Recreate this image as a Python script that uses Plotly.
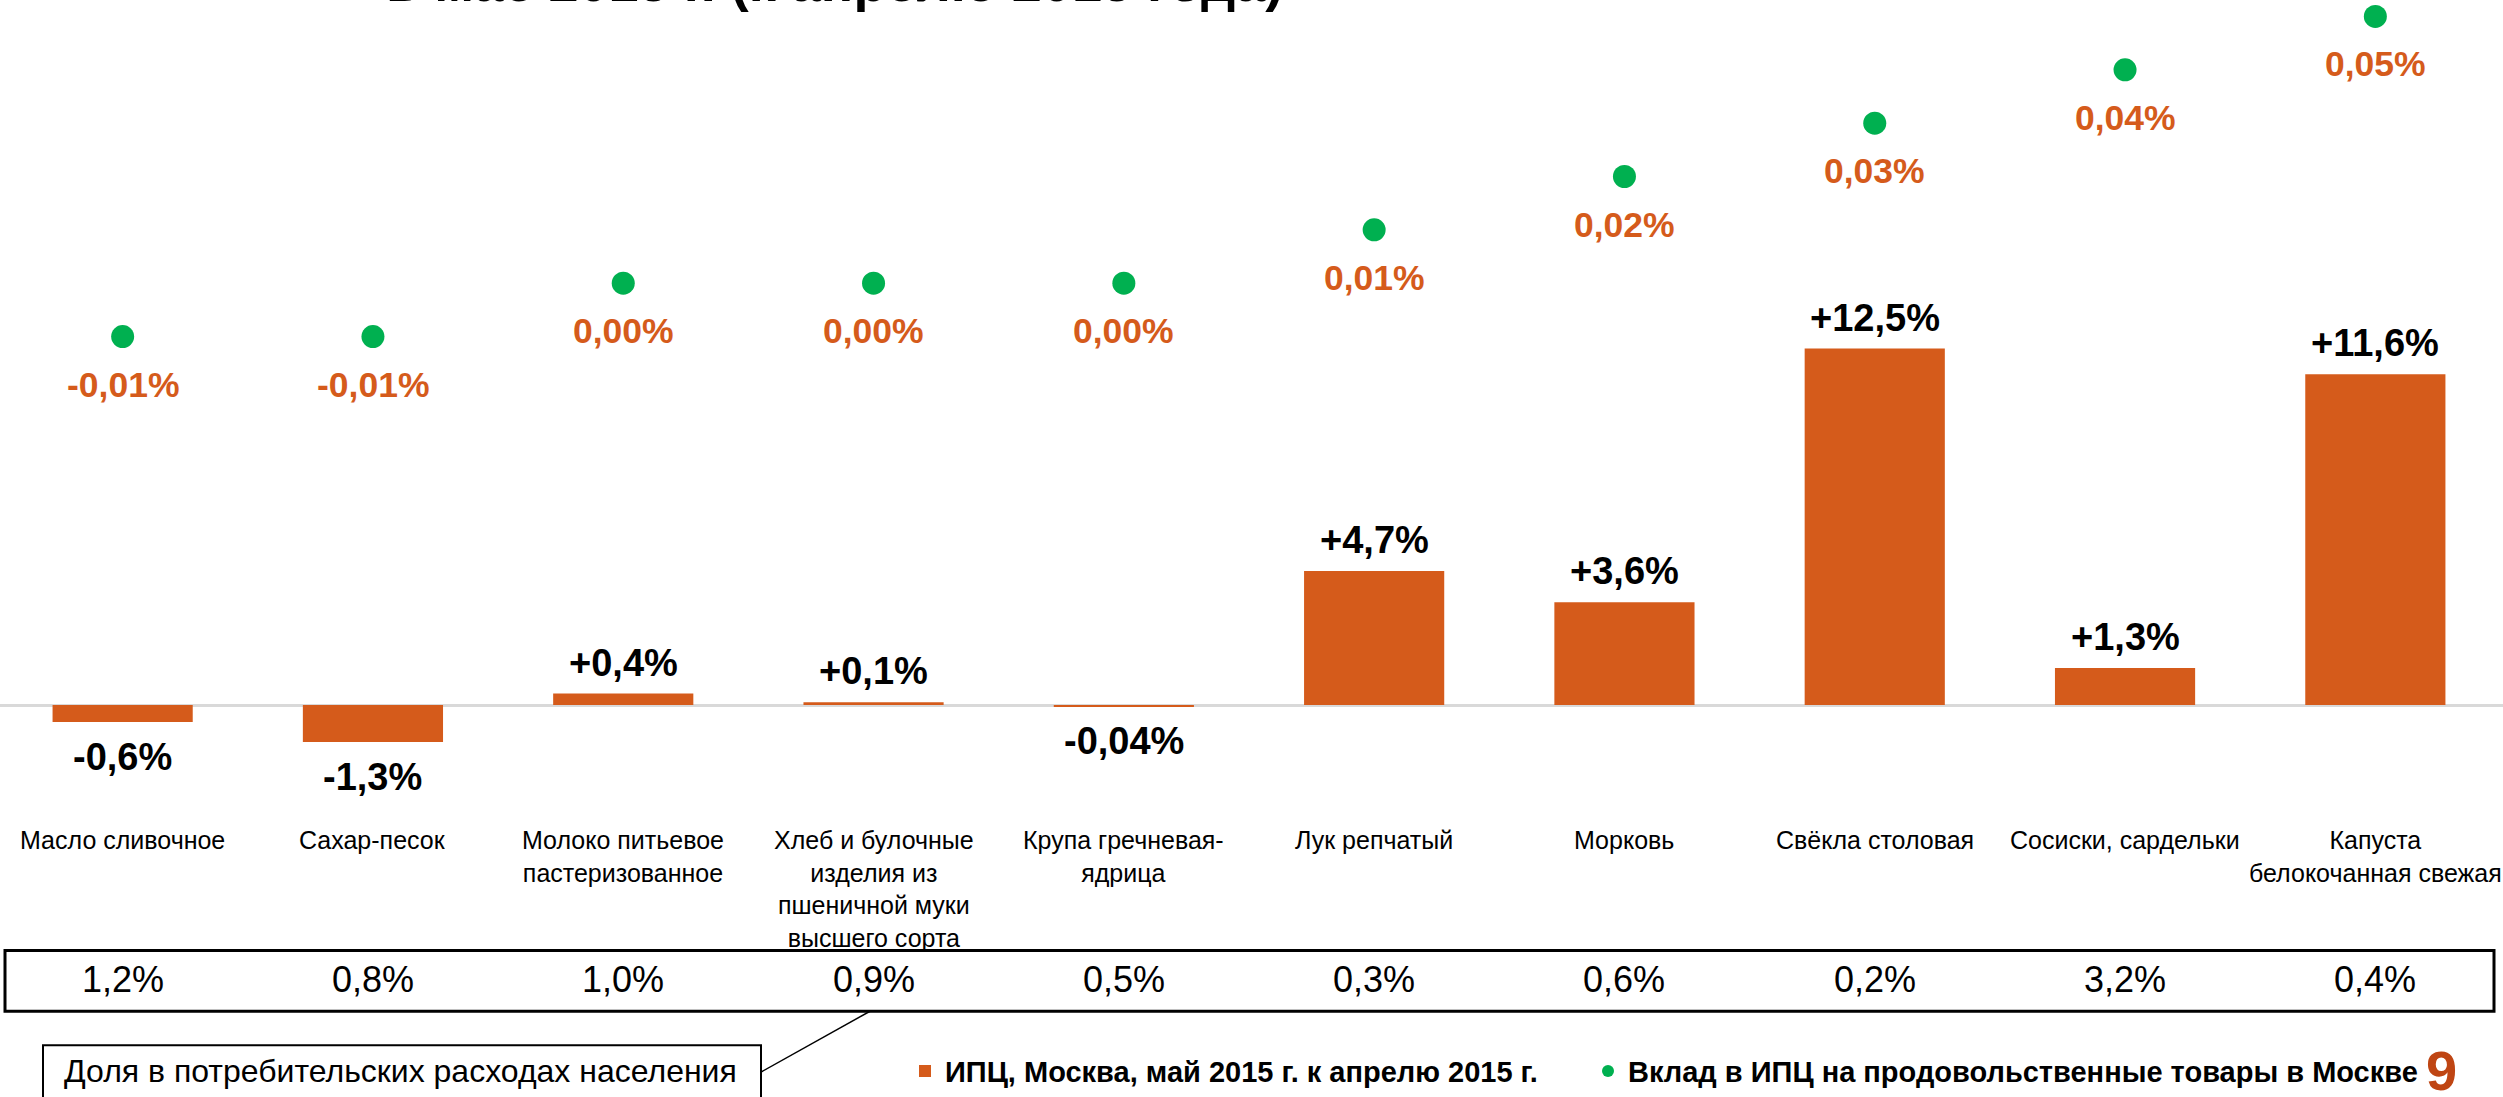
import plotly.graph_objects as go

# ---------------- data ----------------
categories = [
    "Масло сливочное",
    "Сахар-песок",
    "Молоко питьевое<br>пастеризованное",
    "Хлеб и булочные<br>изделия из<br>пшеничной муки<br>высшего сорта",
    "Крупа гречневая-<br>ядрица",
    "Лук репчатый",
    "Морковь",
    "Свёкла столовая",
    "Сосиски, сардельки",
    "Капуста<br>белокочанная свежая",
]
cpi_change = [-0.6, -1.3, 0.4, 0.1, -0.04, 4.7, 3.6, 12.5, 1.3, 11.6]          # % май к апрелю
cpi_contribution = [-0.01, -0.01, 0.00, 0.00, 0.00, 0.01, 0.02, 0.03, 0.04, 0.05]  # п.п.
expense_share = [1.2, 0.8, 1.0, 0.9, 0.5, 0.3, 0.6, 0.2, 3.2, 0.4]              # %

bar_name = "ИПЦ, Москва, май 2015 г. к апрелю 2015 г."
dot_name = "Вклад в ИПЦ на продовольственные товары в Москве"
share_caption = "Доля в потребительских расходах населения"
title_tail = "в мае 2015 г. (к апрелю 2015 года)"
page_number = "9"

# ---------------- styles ----------------
W, H = 2503, 1097
ORANGE = "#D55B1B"
GREEN = "#00B050"
FONT = "Liberation Sans, Arial, sans-serif"


def fmt_change(v):
    d = 2 if abs(v) < 0.1 and v < 0 else 1
    return f"{v:+.{d}f}".replace(".", ",") + "%"


def fmt_contrib(v):
    s = f"{v:.2f}".replace(".", ",")
    if s == "-0,00":
        s = "0,00"
    return s + "%"


def fmt_share(v):
    return f"{v:.1f}".replace(".", ",") + "%"


def py(pix):
    """pixel from top -> paper y"""
    return 1 - pix / H


def px(pix):
    return pix / W


fig = go.Figure()
fig.add_trace(go.Bar(
    x=categories, y=cpi_change, name=bar_name, legend="legend",
    marker=dict(color=ORANGE, line=dict(width=0)), width=0.56, yaxis="y",
))
fig.add_trace(go.Scatter(
    x=categories, y=cpi_contribution, name=dot_name, mode="markers", legend="legend2",
    marker=dict(color=GREEN, size=23), yaxis="y2",
))

ann = []
# bar value labels
for c, v in zip(categories, cpi_change):
    ann.append(dict(x=c, y=v, xref="x", yref="y", text=fmt_change(v), showarrow=False,
                    yanchor="middle", yshift=31 if v >= 0 else -35,
                    font=dict(family=FONT, size=38, color="black", weight="bold")))
# contribution labels
for c, v in zip(categories, cpi_contribution):
    ann.append(dict(x=c, y=v, xref="x", yref="y2", text=fmt_contrib(v), showarrow=False,
                    yanchor="middle", yshift=-48,
                    font=dict(family=FONT, size=35.5, color=ORANGE, weight="bold")))
# category labels
for c in categories:
    ann.append(dict(x=c, y=py(826), xref="x", yref="paper", text=c, showarrow=False,
                    yanchor="top", align="center",
                    font=dict(family=FONT, size=25, color="black")))
# expense share row
for c, v in zip(categories, expense_share):
    ann.append(dict(x=c, y=py(982), xref="x", yref="paper", text=fmt_share(v), showarrow=False,
                    yanchor="middle", font=dict(family=FONT, size=36, color="black")))
# caption box text
ann.append(dict(x=px(62), y=py(1074), xref="paper", yref="paper", text=share_caption,
                showarrow=False, xanchor="left", yanchor="middle",
                font=dict(family=FONT, size=32, color="black")))
# page number
ann.append(dict(x=px(2441), y=py(1073), xref="paper", yref="paper", text=page_number,
                showarrow=False, xanchor="center", yanchor="middle",
                font=dict(family=FONT, size=56, color="#BF4513", weight="bold")))
# title sliver (cut off at top)
ann.append(dict(x=px(384), y=1, xref="paper", yref="paper", text=title_tail,
                showarrow=False, xanchor="left", yanchor="bottom", yshift=-14,
                font=dict(family=FONT, size=54, color="black", weight="bold")))

shapes = [
    dict(type="rect", xref="paper", yref="paper", x0=px(5), x1=px(2494), y0=py(1014), y1=py(953),
         line=dict(color="black", width=3), fillcolor="rgba(0,0,0,0)"),
    dict(type="rect", xref="paper", yref="paper", x0=px(43), x1=px(761), y0=-0.02, y1=py(1048),
         line=dict(color="black", width=2), fillcolor="rgba(0,0,0,0)"),
    dict(type="line", xref="paper", yref="paper", x0=px(761), x1=px(870), y0=py(1075), y1=py(1014),
         line=dict(color="black", width=1.5)),
]

legend_font = dict(family=FONT, size=29, color="black", weight="bold")

fig.update_layout(
    width=W, height=H,
    margin=dict(l=0, r=0, t=0, b=0),
    paper_bgcolor="white", plot_bgcolor="white",
    font=dict(family=FONT, color="black"),
    xaxis=dict(type="category", categoryorder="array", categoryarray=categories,
               range=[-0.49, 9.51], showticklabels=False, showgrid=False, zeroline=False,
               showline=False, ticks=""),
    yaxis=dict(range=[-13.64, 24.72], showticklabels=False, showgrid=False, ticks="",
               showline=False, zeroline=True, zerolinecolor="#D9D9D9", zerolinewidth=3),
    yaxis2=dict(range=[-0.15196, 0.05308], overlaying="y", showticklabels=False,
                showgrid=False, zeroline=False, showline=False, ticks=""),
    showlegend=True,
    legend=dict(orientation="h", x=px(905), xanchor="left", y=py(1074), yanchor="middle",
                font=legend_font, itemsizing="constant",
                bgcolor="rgba(0,0,0,0)", borderwidth=0),
    legend2=dict(orientation="h", x=px(1588), xanchor="left", y=py(1074), yanchor="middle",
                 font=legend_font, itemsizing="constant",
                 bgcolor="rgba(0,0,0,0)", borderwidth=0),
    annotations=ann,
    shapes=shapes,
)

fig.write_html("out.html", config={"displayModeBar": False},
               post_script="document.body.style.margin='0';document.body.style.overflow='hidden';")
